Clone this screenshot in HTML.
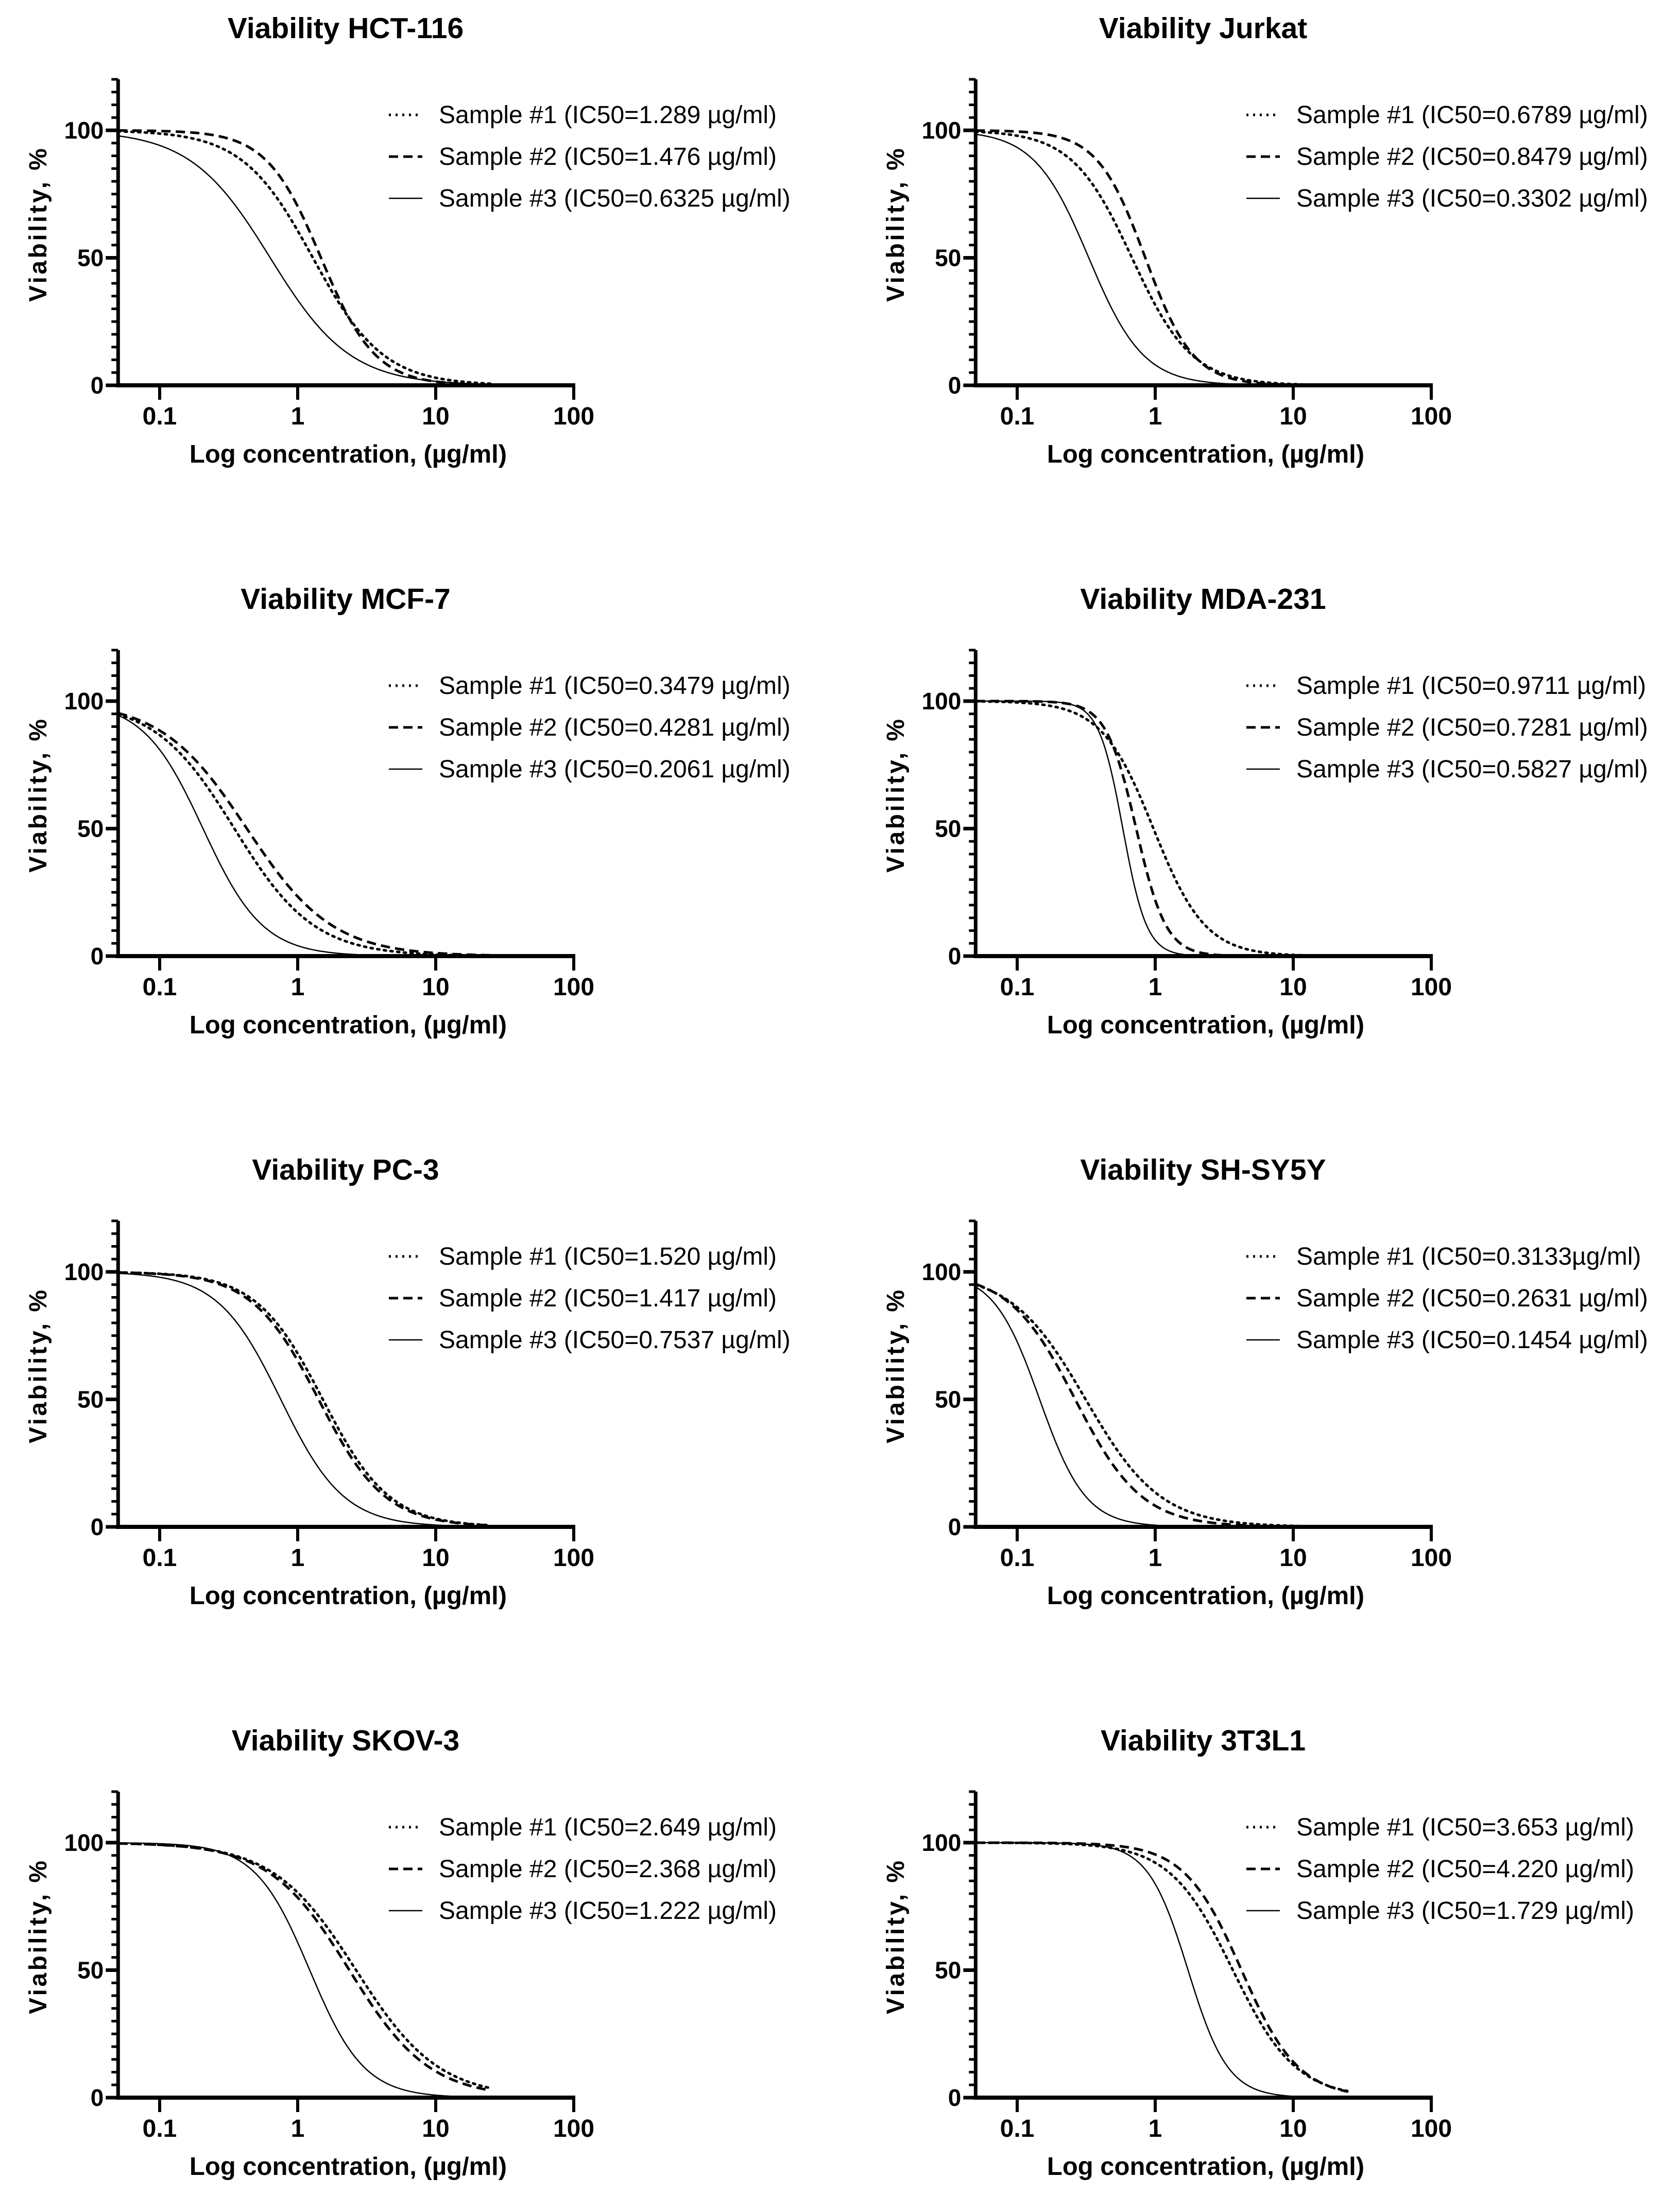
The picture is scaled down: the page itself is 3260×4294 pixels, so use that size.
<!DOCTYPE html>
<html><head><meta charset="utf-8"><style>
html,body{margin:0;padding:0;background:#fff;}
svg{display:block;}
text{font-family:"Liberation Sans",Arial,sans-serif;fill:#000;}
</style></head>
<body>
<svg id="fig" width="3260" height="4294" viewBox="0 0 3260 4294" xmlns="http://www.w3.org/2000/svg"></svg>
<script>
const panelTitles = ["Viability HCT-116","Viability Jurkat","Viability MCF-7","Viability MDA-231","Viability PC-3","Viability SH-SY5Y","Viability SKOV-3","Viability 3T3L1"];
const ic50s = [[1.289,1.476,0.6325],[0.6789,0.8479,0.3302],[0.3479,0.4281,0.2061],[0.9711,0.7281,0.5827],[1.520,1.417,0.7537],[0.3133,0.2631,0.1454],[2.649,2.368,1.222],[3.653,4.220,1.729]];
const hillSlopes = [[1.7,2.2,1.5],[2.0,2.5,2.2],[1.5,1.4,2.0],[2.3,4.0,5.0],[1.8,1.8,1.9],[1.6,1.8,2.6],[1.45,1.5,2.2],[1.9,2.1,3.0]];
const legendLabels = [
 ["Sample #1 (IC50=1.289 µg/ml)","Sample #2 (IC50=1.476 µg/ml)","Sample #3 (IC50=0.6325 µg/ml)"],
 ["Sample #1 (IC50=0.6789 µg/ml)","Sample #2 (IC50=0.8479 µg/ml)","Sample #3 (IC50=0.3302 µg/ml)"],
 ["Sample #1 (IC50=0.3479 µg/ml)","Sample #2 (IC50=0.4281 µg/ml)","Sample #3 (IC50=0.2061 µg/ml)"],
 ["Sample #1 (IC50=0.9711 µg/ml)","Sample #2 (IC50=0.7281 µg/ml)","Sample #3 (IC50=0.5827 µg/ml)"],
 ["Sample #1 (IC50=1.520 µg/ml)","Sample #2 (IC50=1.417 µg/ml)","Sample #3 (IC50=0.7537 µg/ml)"],
 ["Sample #1 (IC50=0.3133µg/ml)","Sample #2 (IC50=0.2631 µg/ml)","Sample #3 (IC50=0.1454 µg/ml)"],
 ["Sample #1 (IC50=2.649 µg/ml)","Sample #2 (IC50=2.368 µg/ml)","Sample #3 (IC50=1.222 µg/ml)"],
 ["Sample #1 (IC50=3.653 µg/ml)","Sample #2 (IC50=4.220 µg/ml)","Sample #3 (IC50=1.729 µg/ml)"]];
const xTickValues = [0.1,1,10,100];
const xTickLabels = ["0.1","1","10","100"];
const yTickValues = [0,50,100];
const yTickLabels = ["0","50","100"];
const xDomain = [0.05,100];
const curveRange = [0.05,25];

const NS="http://www.w3.org/2000/svg";
const svg=document.getElementById('fig');
function mk(tag,attrs,parent){const e=document.createElementNS(NS,tag);for(const k in attrs)e.setAttribute(k,attrs[k]);parent.appendChild(e);return e;}
const dashes=["4 9","18 10",""];

for(let p=0;p<8;p++){
  const col=p%2,row=Math.floor(p/2);
  const ox=col*1665, oy=row*1108;
  const g=mk('g',{},svg);
  
  
  const dec=268, x01=ox+310;
  const sx=v=>x01+(Math.log10(v)+1)*dec;
  const axX=sx(xDomain[0]);
  const y0=oy+748, ppu=4.95;
  const sy=v=>y0-v*ppu;
  const xEnd=sx(xDomain[1]);
  const t=mk('text',{x:ox+671,y:oy+74,'text-anchor':'middle','font-size':57,'font-weight':'bold'},g);
  t.textContent=panelTitles[p];
  
  
  const ya=mk('line',{x1:axX,y1:sy(120),x2:axX,y2:y0+4,stroke:'#000','stroke-width':7},g);
  
  
  for(let v=5;v<=120;v+=5){
    if(v%50===0) continue;
    mk('line',{x1:axX-13,y1:sy(v),x2:axX,y2:sy(v),stroke:'#000','stroke-width':5},g);
  }
  yTickValues.forEach((v,i)=>{
    mk('line',{x1:axX-24,y1:sy(v),x2:axX,y2:sy(v),stroke:'#000','stroke-width':7},g);
    const tl=mk('text',{x:axX-28,y:sy(v)+16,'text-anchor':'end','font-size':46,'font-weight':'bold'},g);
    tl.textContent=yTickLabels[i];
    
    
  });
  const xa=mk('line',{x1:axX-4,y1:y0,x2:xEnd+3,y2:y0,stroke:'#000','stroke-width':8},g);
  
  
  xTickValues.forEach((v,i)=>{
    mk('line',{x1:sx(v),y1:y0,x2:sx(v),y2:y0+28,stroke:'#000','stroke-width':6},g);
    const tl=mk('text',{x:sx(v),y:oy+824,'text-anchor':'middle','font-size':48,'font-weight':'bold'},g);
    tl.textContent=xTickLabels[i];
    
    
  });
  const xt=mk('text',{x:ox+676,y:oy+898,'text-anchor':'middle','font-size':49,'font-weight':'bold'},g);
  xt.textContent="Log concentration, (µg/ml)";
  
  
  const yt=mk('text',{x:0,y:0,'text-anchor':'middle','font-size':48,'font-weight':'bold',textLength:298,lengthAdjust:'spacing',transform:`translate(${ox+90},${oy+437}) rotate(-90)`},g);
  yt.textContent="Viability, %";
  
  
  for(let s=0;s<3;s++){
    let d="";
    const l0=Math.log10(curveRange[0]),l1=Math.log10(curveRange[1]);
    for(let k=0;k<=300;k++){
      const lx=l0+(l1-l0)*k/300, x=Math.pow(10,lx);
      const y=100/(1+Math.pow(x/ic50s[p][s],hillSlopes[p][s]));
      d+=(k?"L":"M")+sx(x).toFixed(1)+","+sy(y).toFixed(1);
    }
    const path=mk('path',{d:d,fill:'none',stroke:'#000','stroke-width':s===2?2.5:5,'stroke-dasharray':dashes[s],'stroke-linecap':s===0?'round':'butt'},g);
    
    
    const ly=oy+223+s*81;
    const ll=mk('line',{x1:ox+755,y1:ly,x2:ox+820,y2:ly,stroke:'#000','stroke-width':s===2?2.5:5,'stroke-dasharray':dashes[s]},g);
    
    
    const lt=mk('text',{x:ox+852,y:ly+16,'font-size':48},g);
    lt.textContent=legendLabels[p][s];
    
    
  }
}
</script>
</body></html>
